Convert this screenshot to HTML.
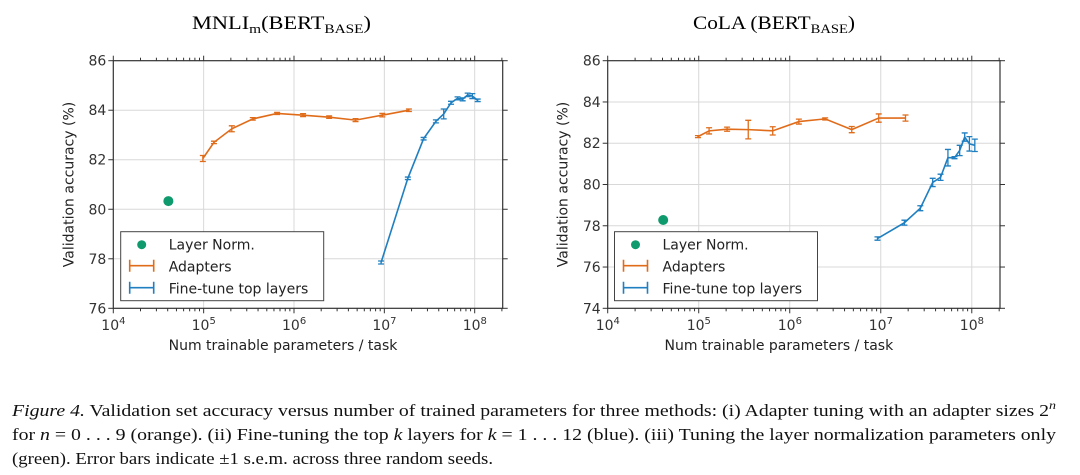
<!DOCTYPE html>
<html><head><meta charset="utf-8"><style>
html,body{margin:0;padding:0;background:#fff;width:1080px;height:475px;overflow:hidden}
svg{display:block}
</style></head><body>
<svg id="fig" width="1080" height="475" xmlns="http://www.w3.org/2000/svg" font-family="'DejaVu Sans','Liberation Sans',sans-serif">
<text x="192" y="29" font-family="'Liberation Serif',serif" font-size="19" textLength="179" lengthAdjust="spacingAndGlyphs">MNLI<tspan font-size="13" dy="4">m</tspan><tspan dy="-4">(BERT</tspan><tspan font-size="13" dy="4">BASE</tspan><tspan dy="-4">)</tspan></text>
<text x="693" y="29" font-family="'Liberation Serif',serif" font-size="19" textLength="162" lengthAdjust="spacingAndGlyphs">CoLA (BERT<tspan font-size="13" dy="4">BASE</tspan><tspan dy="-4">)</tspan></text>
<g id="chart1"></g>
<g id="chart2"></g>
<g font-family="'Liberation Serif',serif" font-size="17" fill="#111">
<text x="12" y="416" textLength="1044" lengthAdjust="spacingAndGlyphs"><tspan font-style="italic">Figure 4.</tspan>  Validation set accuracy versus number of trained parameters for three methods: (i) Adapter tuning with an adapter sizes 2<tspan font-style="italic" font-size="12" dy="-7">n</tspan></text>
<text x="12" y="440" textLength="1044" lengthAdjust="spacingAndGlyphs">for <tspan font-style="italic">n</tspan> = 0 . . . 9 (orange). (ii) Fine-tuning the top <tspan font-style="italic">k</tspan> layers for <tspan font-style="italic">k</tspan> = 1 . . . 12 (blue). (iii) Tuning the layer normalization parameters only</text>
<text x="12" y="464" textLength="481" lengthAdjust="spacingAndGlyphs">(green). Error bars indicate ±1 s.e.m. across three random seeds.</text>
</g>
</svg>
<script>
const adapterParams = [9.8e4,1.3e5,2.05e5,3.5e5,6.5e5,1.26e6,2.45e6,4.8e6,9.5e6,1.87e7];
const finetuneParams = [9.2e6,1.82e7,2.72e7,3.72e7,4.54e7,5.47e7,6.46e7,7.36e7,8.36e7,9.42e7,1.08e8];
const layerNormParams = 4.07e4;
const mnliAdapters = [82.05,82.7,83.25,83.65,83.87,83.8,83.72,83.6,83.8,84.0];
const mnliAdaptersErr = [0.12,0.05,0.12,0.05,0.04,0.06,0.05,0.06,0.07,0.05];
const mnliFinetune = [77.85,81.25,82.85,83.55,83.85,84.3,84.48,84.44,84.62,84.57,84.4];
const mnliFinetuneErr = [0.06,0.05,0.05,0.06,0.2,0.06,0.06,0.06,0.07,0.1,0.05];
const mnliLayerNorm = 80.33;
const colaAdapters = [82.32,82.6,82.68,82.66,82.6,83.05,83.18,82.66,83.22,83.22];
const colaAdaptersErr = [0.05,0.15,0.1,0.45,0.2,0.12,0.05,0.15,0.2,0.15];
const colaFinetune = [77.38,78.15,78.85,80.1,80.35,81.3,81.3,81.65,82.3,81.97,81.9];
const colaFinetuneErr = [0.08,0.12,0.12,0.2,0.15,0.4,0.05,0.25,0.2,0.35,0.3];
const colaLayerNorm = 78.28;
const mnliYTicks = [76,78,80,82,84,86];
const colaYTicks = [74,76,78,80,82,84,86];
const xTickExps = [4,5,6,7,8];

const NS='http://www.w3.org/2000/svg';
function mk(parent,tag,attrs){const e=document.createElementNS(NS,tag);for(const k in attrs)e.setAttribute(k,attrs[k]);parent.appendChild(e);return e;}
const ORANGE='#e06c1a', BLUE='#1f7fc0', GREEN='#0e9a6c';

function drawChart(g,o){
  const L=o.left,R=o.right,T=60.7,B=308.3,ymin=o.yTicks[0],ymax=o.yTicks[o.yTicks.length-1];
  const dec=(R-L)/4.31;
  const X=v=>L+(Math.log10(v)-4)*dec;
  const Y=v=>B-(v-ymin)/(ymax-ymin)*(B-T);
  xTickExps.forEach(e=>{if(e>4){const l=mk(g,'line',{x1:X(10**e),x2:X(10**e),y1:T,y2:B,stroke:'#d8d8d8','stroke-width':1});
    
    }});
  o.yTicks.forEach(v=>{if(v>ymin&&v<ymax){const l=mk(g,'line',{x1:L,x2:R,y1:Y(v),y2:Y(v),stroke:'#d8d8d8','stroke-width':1});
    
    }});
  for(let e=4;e<=8;e++){for(let m=1;m<10;m++){const v=m*10**e;if(Math.log10(v)>8.31)break;const x=X(v);const len=m===1?5:3;
    mk(g,'line',{x1:x,x2:x,y1:B,y2:B+len,stroke:'#333'});mk(g,'line',{x1:x,x2:x,y1:T,y2:T-len,stroke:'#333'});}}
  o.yTicks.forEach(v=>{mk(g,'line',{x1:L-5,x2:L,y1:Y(v),y2:Y(v),stroke:'#333'});mk(g,'line',{x1:R,x2:R+5,y1:Y(v),y2:Y(v),stroke:'#333'});
    const t=mk(g,'text',{x:L-7,y:Y(v)+5,'text-anchor':'end','font-size':14,fill:'#333'});t.textContent=v;
    
    });
  xTickExps.forEach(e=>{const t=mk(g,'text',{x:X(10**e)-12,y:330,'font-size':14,fill:'#333'});
    
    
    t.appendChild(document.createTextNode('10'));
    const s=mk(t,'tspan',{'font-size':10,dy:-6});s.textContent=e;});
  const fr=mk(g,'rect',{x:L,y:T,width:R-L,height:B-T,fill:'none',stroke:'#333','stroke-width':1.2});
  
  
  const xl=mk(g,'text',{x:(L+R)/2-25,y:350,'text-anchor':'middle','font-size':14,fill:'#222'});xl.textContent='Num trainable parameters / task';
  
  
  const yl=mk(g,'text',{transform:`translate(${L-40},${(T+B)/2}) rotate(-90)`,'text-anchor':'middle','font-size':14,fill:'#222'});yl.textContent='Validation accuracy (%)';
  
  
  function series(xs,ys,es,col,name){
    const p=mk(g,'polyline',{points:xs.map((x,i)=>X(x)+','+Y(ys[i])).join(' '),fill:'none',stroke:col,'stroke-width':1.6});
    
    
    xs.forEach((x,i)=>{const cx=X(x),y1=Y(ys[i]+es[i]),y2=Y(ys[i]-es[i]);
      const eb=mk(g,'path',{d:`M${cx},${y1}V${y2}M${cx-3},${y1}H${cx+3}M${cx-3},${y2}H${cx+3}`,stroke:col,'stroke-width':1.3,fill:'none'});
      
      });
  }
  series(adapterParams,o.ad,o.adErr,ORANGE,'adapters');
  series(finetuneParams,o.ft,o.ftErr,BLUE,'finetune');
  const c=mk(g,'circle',{cx:X(layerNormParams),cy:Y(o.ln),r:5,fill:GREEN});
  
  
  const lx=o.legX,ly=231.7;
  const lg=mk(g,'g',{});
  
  
  mk(lg,'rect',{x:lx,y:ly,width:203,height:69,fill:'#fff',stroke:'#444','stroke-width':1});
  mk(lg,'circle',{cx:lx+21,cy:ly+13,r:4.5,fill:GREEN});
  [[ORANGE,ly+34],[BLUE,ly+56]].forEach(([col,y])=>mk(lg,'path',{d:`M${lx+9},${y}H${lx+33}M${lx+9},${y-6}V${y+6}M${lx+33},${y-6}V${y+6}`,stroke:col,'stroke-width':1.6,fill:'none'}));
  [['Layer Norm.',ly+18],['Adapters',ly+40],['Fine-tune top layers',ly+62]].forEach(([s,y])=>{const t=mk(lg,'text',{x:lx+48,y:y,'font-size':14,fill:'#222'});t.textContent=s;
    
    });
}
drawChart(document.getElementById('chart1'),{left:113.3,right:502.7,yTicks:mnliYTicks,ad:mnliAdapters,adErr:mnliAdaptersErr,ft:mnliFinetune,ftErr:mnliFinetuneErr,ln:mnliLayerNorm,legX:120.7});
drawChart(document.getElementById('chart2'),{left:607.7,right:1000,yTicks:colaYTicks,ad:colaAdapters,adErr:colaAdaptersErr,ft:colaFinetune,ftErr:colaFinetuneErr,ln:colaLayerNorm,legX:614.5});
</script>
</body></html>
